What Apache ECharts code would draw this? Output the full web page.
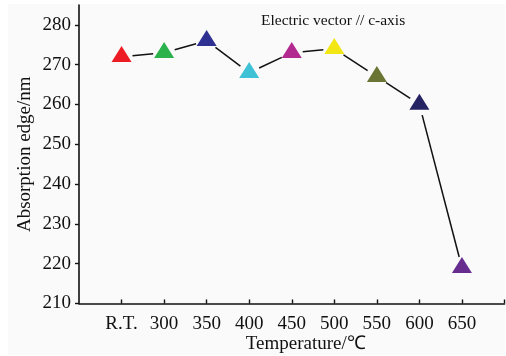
<!DOCTYPE html>
<html>
<head>
<meta charset="utf-8">
<style>
  html, body { margin: 0; padding: 0; background: #ffffff; }
  #chart { width: 506px; height: 356px; }
</style>
<script src="https://cdn.jsdelivr.net/npm/echarts@6/dist/echarts.min.js"></script>
</head>
<body>
<div id="chart"></div>
<script>
// Annealing temperatures (category labels) and measured absorption edges
const temperatures = ['R.T.', '300', '350', '400', '450', '500', '550', '600', '650'];
const absorptionEdge = [272, 273, 276, 268, 273, 274, 267, 260, 219];
const markerColors = ['#ed1c24', '#2bb24c', '#2e3192', '#3fc1d6', '#b2298f', '#f2e614', '#6b7533', '#262363', '#662d8f'];
const yTicks = [210, 220, 230, 240, 250, 260, 270, 280];

const FONT = '"Liberation Serif", "Times New Roman", serif';

// Each temperature sits at position 1..n along a 0..n+1 value axis
const points = absorptionEdge.map((v, i) => [i + 1, v]);
const xTickValues = temperatures.map((_, i) => i + 1).concat([temperatures.length + 1]);
const xLabelValues = temperatures.map((_, i) => i + 1);

// Connecting segments between consecutive points
const segments = [];
for (let i = 0; i < points.length - 1; i++) {
  segments.push([points[i][0], points[i][1], points[i + 1][0], points[i + 1][1]]);
}

const chart = echarts.init(document.getElementById('chart'), null, { renderer: 'canvas' });

chart.setOption({
  backgroundColor: '#ffffff',
  animation: false,
  graphic: [{
    type: 'rect',
    z: -10,
    silent: true,
    shape: { x: 8, y: 4, width: 497, height: 351 },
    style: { fill: '#fafafa' }
  }],
  title: {
    text: 'Electric vector // c-axis',
    left: 256,
    top: 8,
    textStyle: { fontFamily: FONT, fontSize: 15.5, fontWeight: 'normal', color: '#111' }
  },
  grid: { left: 79, right: 1.5, top: 5, bottom: 52.5, containLabel: false, outerBoundsMode: 'none' },
  xAxis: {
    type: 'value',
    min: 0,
    max: temperatures.length + 1,
    interval: 1,
    name: 'Temperature/\u2103',
    nameLocation: 'middle',
    nameGap: 31,
    nameMoveOverlap: false,
    nameTextStyle: { fontFamily: FONT, fontSize: 19, color: '#111', padding: [0, 0, 0, 28] },
    axisLine: { show: true, onZero: false, lineStyle: { color: '#111', width: 1.6 } },
    axisTick: { show: true, inside: true, length: 4, customValues: xTickValues, lineStyle: { color: '#111', width: 1.4 } },
    axisLabel: {
      customValues: xLabelValues,
      margin: 11,
      fontFamily: FONT, fontSize: 19, color: '#111',
      formatter: v => temperatures[v - 1] || ''
    },
    splitLine: { show: false }
  },
  yAxis: {
    type: 'value',
    min: 210,
    max: 285,
    interval: 10,
    name: 'Absorption edge/nm',
    nameLocation: 'middle',
    nameGap: 44,
    nameMoveOverlap: false,
    nameTextStyle: { fontFamily: FONT, fontSize: 19, color: '#111' },
    axisLine: { show: true, lineStyle: { color: '#111', width: 1.6 } },
    axisTick: { show: true, inside: false, length: 4, customValues: yTicks, lineStyle: { color: '#111', width: 1.4 } },
    axisLabel: { customValues: yTicks, margin: 8, fontFamily: FONT, fontSize: 19, color: '#111' },
    splitLine: { show: false }
  },
  series: [
    {
      // Line segments, trimmed short of each marker
      type: 'custom',
      data: segments,
      z: 1,
      renderItem: function (params, api) {
        const a = api.coord([api.value(0), api.value(1)]);
        const b = api.coord([api.value(2), api.value(3)]);
        const dx = b[0] - a[0], dy = b[1] - a[1];
        const len = Math.sqrt(dx * dx + dy * dy);
        const gap = 11;
        const ux = dx / len, uy = dy / len;
        return {
          type: 'line',
          shape: {
            x1: a[0] + ux * gap, y1: a[1] + uy * gap,
            x2: b[0] - ux * gap, y2: b[1] - uy * gap
          },
          style: { stroke: '#111', lineWidth: 1.5 }
        };
      }
    },
    {
      type: 'scatter',
      z: 2,
      symbol: 'triangle',
      symbolSize: [20, 16],
      symbolOffset: [0, -2.7],
      itemStyle: { opacity: 1 },
      data: points.map((p, i) => ({ value: p, itemStyle: { color: markerColors[i], opacity: 1 } }))
    }
  ]
});
</script>
</body>
</html>
